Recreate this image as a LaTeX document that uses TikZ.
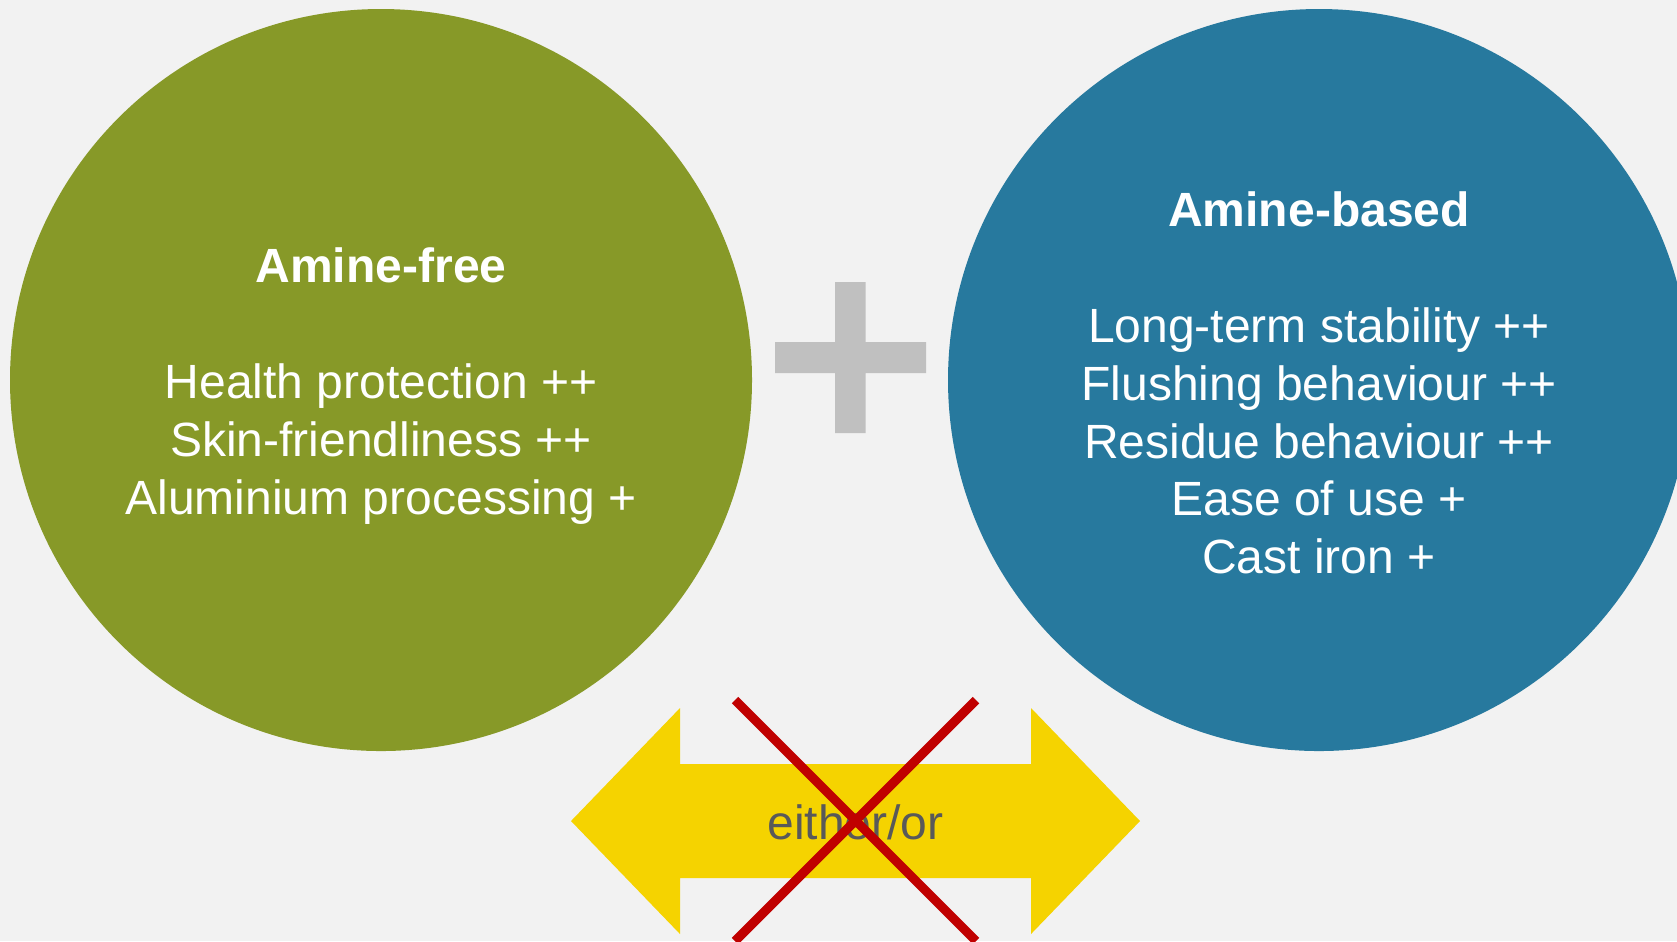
\documentclass[tikz,border=0pt]{standalone}
\usepackage{xcolor}
\usepackage{fontspec}
\setmainfont{Liberation Sans}
\usepackage{tikz}
\usetikzlibrary{calc}

\definecolor{bggray}{HTML}{F2F2F2}
\definecolor{freegreen}{HTML}{879928}
\definecolor{basedblue}{HTML}{27799E}
\definecolor{plusgray}{HTML}{C0C0C0}
\definecolor{arrowyellow}{HTML}{F5D300}
\definecolor{crossred}{HTML}{C00000}
\definecolor{labelgray}{HTML}{595959}
\newcommand{\slidefont}{\fontsize{13.66}{16.44}\selectfont}
\tikzset{bubbletext/.style={text=white,align=center,font=\slidefont,inner sep=0pt}}

\begin{document}
\begin{tikzpicture}[x=0.01cm,y=-0.01cm]
	    \useasboundingbox (0,0) rectangle (1677,941);
	    \clip (0,0) rectangle (1677,941);
	    \fill[bggray] (0,0) rectangle (1677,941); %background
	    \coordinate (C1) at (381,380);
	    \coordinate (C2) at (1319,380);
	    \fill[freegreen] (C1) circle[radius=371]; % amine-free
	    \fill[basedblue] (C2) circle[radius=371]; % amine-based
	    \node[bubbletext] (AF) at ($(C1)+(0,6)$) {\textbf{Amine-free}\\[16.44pt]Health protection ++\\Skin-friendliness ++\\Aluminium processing +};
	    \node[bubbletext] (AB) at ($(C2)+(0,3)$) {\textbf{Amine-based}\\[16.44pt]Long-term stability ++\\Flushing behaviour ++\\Residue behaviour ++\\Ease of use +\\Cast iron +};
	    \fill[plusgray] (835,282) rectangle (865.5,433) (775,342) rectangle (926,373); % plus sign
	    \coordinate (T1) at (571,821);
	    \coordinate (T2) at (1140,821);
	    \fill[arrowyellow] (T1) -- ++(109,-113) -- ++(0,56) -- ++(351,0) -- ++(0,-56) -- (T2) -- ++(-109,113) -- ++(0,-56) -- ++(-351,0) -- ++(0,56) -- cycle; % double arrow
	    \node[text=labelgray,font=\slidefont,inner sep=0pt] (EO) at ($(T1)!0.5!(T2)+(0,1)$) {either/or};
	    \coordinate (X1) at (735,700);
	    \coordinate (X2) at (976,700);
	    \coordinate (X3) at (735,941);
	    \coordinate (X4) at (976,941);
	    \draw[crossred,line width=2.6pt] (X1) -- (X4) (X2) -- (X3); % crossed out
	    \end{tikzpicture}
\end{document}
